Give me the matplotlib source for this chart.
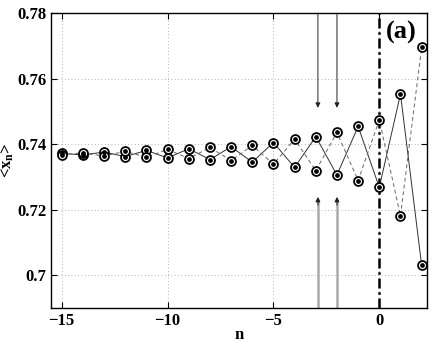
import numpy as np
import matplotlib
matplotlib.use("Agg")
from matplotlib import pyplot as plt

plt.rcParams['font.family'] = ['Liberation Serif', 'DejaVu Serif']
plt.rcParams['font.weight'] = 'bold'
plt.rcParams['mathtext.fontset'] = 'custom'
plt.rcParams['mathtext.rm'] = 'Liberation Serif:bold'
plt.rcParams['mathtext.it'] = 'Liberation Serif:bold'
plt.rcParams['mathtext.bf'] = 'Liberation Serif:bold'

# iteration index
n = np.arange(-15, 3)
# solid branch (upper on odd n, lower on even n)
solid = [0.7372, 0.7367, 0.7376, 0.7362, 0.7381, 0.7358, 0.7386, 0.7353, 0.7392,
         0.7345, 0.7405, 0.7329, 0.7423, 0.7306, 0.7454, 0.7268, 0.7553, 0.7030]
# dashed branch
dashed = [0.7368, 0.7373, 0.7364, 0.7378, 0.7360, 0.7384, 0.7356, 0.7390, 0.7350,
          0.7396, 0.7339, 0.7415, 0.7319, 0.7436, 0.7289, 0.7474, 0.7181, 0.7696]

# arrow annotations
arrow_x = [-2.9, -2.0]
down_tip = 0.7511
up_tip = 0.7239

fig = plt.figure(figsize=(4.37, 3.46), dpi=100)
ax = fig.add_axes([0.117, 0.110, 0.860, 0.852])

ax.plot(n, solid, '-', color='#333333', lw=0.7, zorder=3)
ax.plot(n, dashed, '--', color='#666666', lw=0.7, dashes=(4, 3), zorder=3)
for ys in (solid, dashed):
    ax.plot(n, ys, 'o', ms=6.4, mfc='white', mec='black', mew=1.3, zorder=4)
    ax.plot(n, ys, 'o', ms=2.4, color='black', zorder=5)

ax.axvline(0, color='black', lw=1.8, ls=(0, (4, 1.5, 1, 1.5)), zorder=2)

for x in arrow_x:
    ax.annotate('', xy=(x, down_tip), xytext=(x, 0.78),
                arrowprops=dict(arrowstyle='-|>', color='#222222', lw=0.7,
                                mutation_scale=7, shrinkA=0, shrinkB=0))
    ax.plot([x, x], [0.69, up_tip - 0.001], color='#aaaaaa', lw=1.8, zorder=2)
    ax.annotate('', xy=(x, up_tip), xytext=(x, up_tip - 0.0025),
                arrowprops=dict(arrowstyle='-|>', color='#222222', lw=0.7,
                                mutation_scale=7, shrinkA=0, shrinkB=0))

ax.set_xlim(-15.5, 2.25)
ax.set_ylim(0.69, 0.78)
ax.set_xticks([-15, -10, -5, 0])
ax.set_xticklabels(['\u221215', '\u221210', '\u22125', '0'])
ax.set_yticks([0.7, 0.72, 0.74, 0.76, 0.78])
ax.set_yticklabels(['0.7', '0.72', '0.74', '0.76', '0.78'])
ax.grid(True, ls=(0, (1, 3)), color='#999999', lw=0.6)
ax.tick_params(direction='in', top=True, right=True, length=4, width=0.8,
               labelsize=12)
for s in ax.spines.values():
    s.set_linewidth(1.0)

ax.set_xlabel('n', fontsize=12, fontweight='bold', labelpad=-1)
ax.set_ylabel(r'<x$_\mathrm{n}$>', fontsize=12, fontweight='bold', labelpad=1)
ax.text(0.972, 0.975, '(a)', transform=ax.transAxes, ha='right', va='top',
        fontsize=19, fontweight='bold')

fig.savefig('out.png', dpi=100)
